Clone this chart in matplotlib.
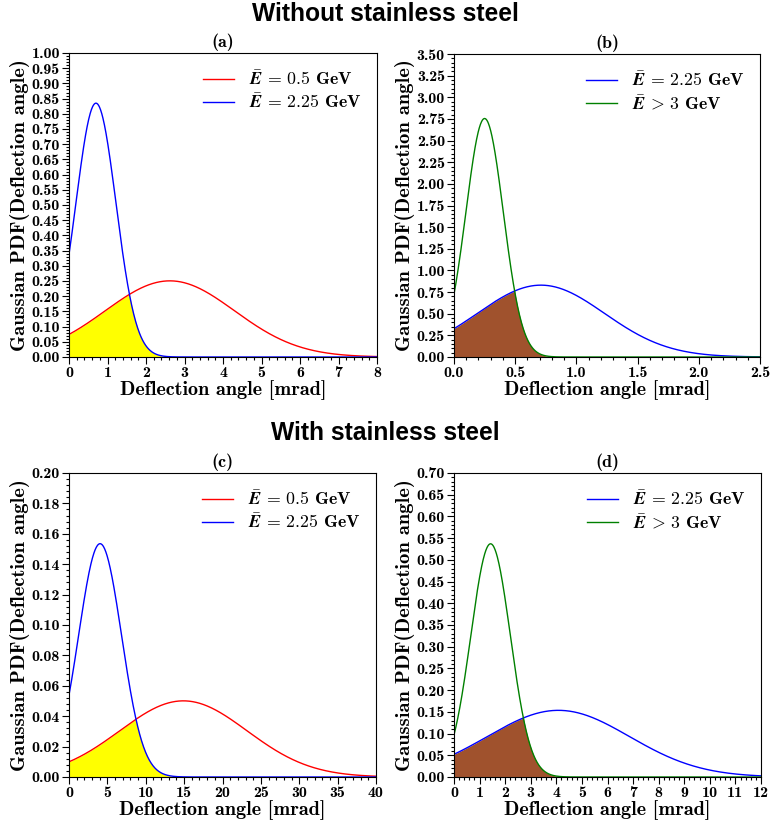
import numpy as np
import matplotlib
matplotlib.use("Agg")
import matplotlib.pyplot as plt
from matplotlib.ticker import MultipleLocator, AutoMinorLocator, FormatStrFormatter

plt.rcParams['font.family'] = ['cmb10', 'DejaVu Serif']
plt.rcParams['mathtext.fontset'] = 'cm'
plt.rcParams['axes.unicode_minus'] = False
plt.rcParams['axes.formatter.use_mathtext'] = True

# ---- data (Gaussian parameters) ----
panel_names = ['(a)', '(b)', '(c)', '(d)']
labels_ab = [r'$\bar{\mathbfit{E}}\,\mathbf{=\,0.5}$ GeV', r'$\bar{\mathbfit{E}}\,\mathbf{=\,2.25}$ GeV']
labels_bd = [r'$\bar{\mathbfit{E}}\,\mathbf{=\,2.25}$ GeV', r'$\bar{\mathbfit{E}}\,\mathbf{>\,3}$ GeV']

# (a) without steel: 0.5 GeV and 2.25 GeV
a_mean = [2.62, 0.70]
a_sigma = [1.68, 0.52]
a_peak = [0.2505, 0.835]
# (b) without steel: 2.25 GeV and >3 GeV
b_mean = [0.71, 0.25]
b_sigma = [0.52, 0.153]
b_peak = [0.83, 2.755]
# (c) with steel: 0.5 GeV and 2.25 GeV
c_mean = [14.9, 4.05]
c_sigma = [8.3, 2.8]
c_peak = [0.0501, 0.1535]
# (d) with steel: 2.25 GeV and >3 GeV
d_mean = [4.08, 1.43]
d_sigma = [2.78, 0.773]
d_peak = [0.1535, 0.537]

xlims = [(0, 8), (0, 2.5), (0, 40), (0, 12)]
ylims = [(0, 1.0), (0, 3.5), (0, 0.2), (0, 0.7)]
xmajor = [1, 0.5, 5, 1]
ymajor = [0.05, 0.25, 0.02, 0.05]
xfmt = ['%d', '%.1f', '%d', '%d']
yfmt = ['%.2f', '%.2f', '%.2f', '%.2f']
colors_pair = [('red', 'blue'), ('blue', 'green'), ('red', 'blue'), ('blue', 'green')]
fill_colors = ['#ffff00', '#a0522d', '#ffff00', '#a0522d']

params = [(a_mean, a_sigma, a_peak, labels_ab),
          (b_mean, b_sigma, b_peak, labels_bd),
          (c_mean, c_sigma, c_peak, labels_ab),
          (d_mean, d_sigma, d_peak, labels_bd)]

fig = plt.figure(figsize=(7.71, 8.25), dpi=100)
W, H = 771, 825
boxes = [(69, 53, 377, 357), (454, 54, 760, 357), (69, 473, 376, 777), (454, 473, 761, 777)]

for i, (box, (mu, sg, pk, labs)) in enumerate(zip(boxes, params)):
    l, t, r, b = box
    ax = fig.add_axes([l / W, 1 - b / H, (r - l) / W, (b - t) / H])
    x = np.linspace(xlims[i][0], xlims[i][1], 800)
    ys = [p * np.exp(-(x - m) ** 2 / (2 * s ** 2)) for m, s, p in zip(mu, sg, pk)]
    ax.fill_between(x, 0, np.minimum(ys[0], ys[1]), color=fill_colors[i], lw=0, zorder=1)
    for y, c, lab in zip(ys, colors_pair[i], labs):
        ax.plot(x, y, color=c, lw=1.0, label=lab, zorder=2)
    ax.set_xlim(*xlims[i])
    ax.set_ylim(*ylims[i])
    ax.xaxis.set_major_locator(MultipleLocator(xmajor[i]))
    ax.yaxis.set_major_locator(MultipleLocator(ymajor[i]))
    ax.xaxis.set_minor_locator(AutoMinorLocator(5))
    ax.yaxis.set_minor_locator(AutoMinorLocator(5))
    ax.xaxis.set_major_formatter(FormatStrFormatter(xfmt[i]))
    ax.yaxis.set_major_formatter(FormatStrFormatter(yfmt[i]))
    ax.tick_params(which='both', direction='out', top=False, right=False, labelsize=11.5, pad=1.5)
    ax.tick_params(which='major', length=5, width=0.8)
    ax.tick_params(which='minor', length=2.5, width=0.8)
    for sp in ax.spines.values():
        sp.set_linewidth(0.8)
    ax.set_xlabel('Deflection angle [mrad]', fontsize=14.5, labelpad=0)
    ax.set_ylabel('Gaussian PDF(Deflection angle)', fontsize=14.8, labelpad=1)
    ax.set_title(panel_names[i], fontsize=13, pad=4)
    ax.legend(loc='upper right', frameon=False, fontsize=12.8, handlelength=1.75,
              handletextpad=0.8, borderaxespad=0.5, labelspacing=0.25)

fig.text(0.5, 1 - 14 / H, 'Without stainless steel', ha='center', va='center',
         fontsize=17.7, fontweight='bold', family='Liberation Sans')
fig.text(0.5, 1 - 433 / H, 'With stainless steel', ha='center', va='center',
         fontsize=17.7, fontweight='bold', family='Liberation Sans')

fig.savefig('out.png', dpi=100)
